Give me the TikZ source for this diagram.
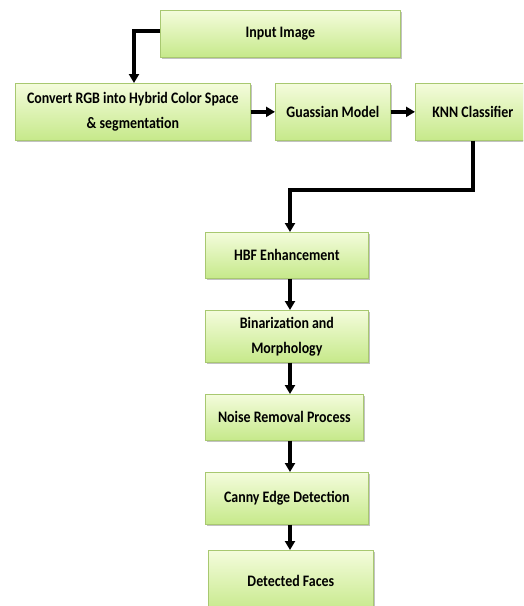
\documentclass[tikz,border=0pt]{standalone}
\usepackage{fontspec}
\setmainfont{Carlito}[FakeStretch=0.87]
\usetikzlibrary{arrows.meta,shadows}
\definecolor{boxtop}{HTML}{F4FCDC}
\definecolor{boxbot}{HTML}{C6E98A}
\definecolor{boxline}{HTML}{A8C870}
\tikzset{
  box/.style={draw=boxline, line width=0.7pt, top color=boxtop, bottom color=boxbot,
    drop shadow={shadow xshift=1.5pt, shadow yshift=-1.5pt, fill=black!40, opacity=0.6},
    font=\bfseries\fontsize{16}{25}\selectfont, align=center, inner sep=0pt, anchor=north west},
  conn/.style={line width=3.4pt, -{Triangle[length=9pt,width=10pt]}}
}
\begin{document}
\begin{tikzpicture}[x=1pt,y=-1pt]
\useasboundingbox (0,0) rectangle (523,606);
\clip (0,0) rectangle (523,606);
\node[box, minimum width=240pt, minimum height=47pt] (inp) at (160,10) {Input Image};
\node[box, minimum width=235pt, minimum height=57pt] (conv) at (15,83) {Convert RGB into Hybrid Color Space\\ \& segmentation};
\node[box, minimum width=115pt, minimum height=57pt] (gau) at (275,83) {Guassian Model};
\node[box, minimum width=115pt, minimum height=57pt] (knn) at (415,83) {KNN Classifier};
\node[box, minimum width=163pt, minimum height=46pt] (hbf) at (205,232) {HBF Enhancement};
\node[box, minimum width=163pt, minimum height=52pt] (bin) at (205,310) {Binarization and\\Morphology};
\node[box, minimum width=158pt, minimum height=46pt] (noi) at (205,394) {Noise Removal Process};
\node[box, minimum width=163pt, minimum height=52pt] (can) at (205,472) {Canny Edge Detection};
\node[box, minimum width=165pt, minimum height=62pt] (det) at (208,550) {Detected Faces};
\coordinate (c1) at (134,31);
\coordinate (c2) at (473,190);
\coordinate (c3) at (290,190);
\draw[conn] (inp.west |- c1) -- (c1) -- (c1 |- conv.north);
\draw[conn] (conv.east) -- (gau.west);
\draw[conn] (gau.east) -- (gau.east -| knn.west);
\draw[conn] (knn.south -| c2) -- (c2) -- (c3) -- (c3 |- hbf.north);
\draw[conn] (hbf.south -| c3) -- (c3 |- bin.north);
\draw[conn] (bin.south -| c3) -- (c3 |- noi.north);
\draw[conn] (noi.south -| c3) -- (c3 |- can.north);
\draw[conn] (can.south -| c3) -- (c3 |- det.north);
\end{tikzpicture}
\end{document}
